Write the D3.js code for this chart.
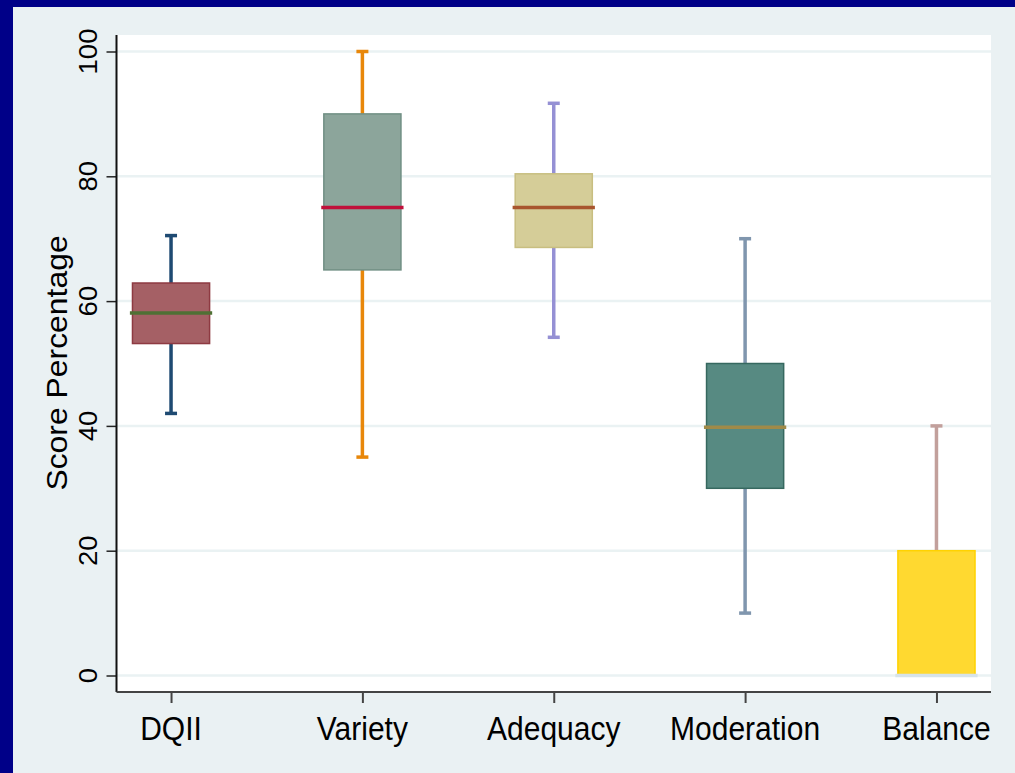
<!DOCTYPE html>
<html><head><meta charset="utf-8">
<script src="https://cdn.jsdelivr.net/npm/d3@7"></script>
<style>html,body{margin:0;padding:0;background:#000088;}svg{display:block;}</style>
</head><body>
<svg id="chart" width="1015" height="773"></svg>
<script>
const categories = ["DQII", "Variety", "Adequacy", "Moderation", "Balance"];
const whiskerLow  = [42, 35, 54.2, 10, 0];
const q1          = [53.2, 65, 68.6, 30, 0];
const median      = [58.1, 75, 75, 39.8, 0];
const q3          = [62.9, 90, 80.4, 50, 20];
const whiskerHigh = [70.5, 100, 91.7, 70, 40];
const yTicks = [0, 20, 40, 60, 80, 100];
const yTitle = "Score Percentage";

const boxFill    = ["#a56065", "#8ca59b", "#d5cd98", "#578a82", "#ffd930"];
const boxStroke  = ["#8e3a42", "#708f84", "#c8be80", "#36685f", "#ffd200"];
const whiskerCol = ["#1e4a72", "#e8870a", "#9590d4", "#8096ae", "#c2a09c"];
const medianCol  = ["#4f7034", "#c0103a", "#a8552e", "#a08a48", "#d6e3ea"];

const data = categories.map((c, i) => ({
  cat: c, lo: whiskerLow[i], q1: q1[i], med: median[i], q3: q3[i], hi: whiskerHigh[i], i
}));

const svg = d3.select("#chart");
const W = 1015, H = 773;
svg.append("rect").attr("width", W).attr("height", H).attr("fill", "#000088");
svg.append("rect").attr("x", 13).attr("y", 7).attr("width", W - 13).attr("height", H - 7).attr("fill", "#eaf1f3");

const plot = {left: 116.5, right: 991, top: 35, bottom: 692};
svg.append("rect").attr("x", plot.left).attr("y", plot.top)
  .attr("width", plot.right - plot.left).attr("height", plot.bottom - plot.top).attr("fill", "#ffffff");

const x = d3.scalePoint().domain(categories).range([plot.left, plot.right]).padding(0.285);
const y = d3.scaleLinear().domain([0, 100]).range([675.5, 51.5]);
const step = x.step();

// gridlines
svg.append("g").selectAll("line").data(yTicks).join("line")
  .attr("x1", plot.left).attr("x2", plot.right)
  .attr("y1", d => y(d)).attr("y2", d => y(d))
  .attr("stroke", "#eaf2f3").attr("stroke-width", 2.5);

// y axis
const yAxisG = svg.append("g").attr("transform", `translate(${plot.left},0)`);
yAxisG.call(d3.axisLeft(y).tickValues(d3.range(0, 101, 4)).tickSize(6).tickFormat(""));
yAxisG.call(d3.axisLeft(y).tickValues(yTicks).tickSize(10).tickFormat(""));
yAxisG.selectAll(".domain").remove();
yAxisG.selectAll(".tick line").attr("stroke", "#222").attr("stroke-width", 1.5);
svg.append("line").attr("x1", plot.left).attr("x2", plot.left).attr("y1", plot.top).attr("y2", plot.bottom)
  .attr("stroke", "#111").attr("stroke-width", 2);

// y tick labels
svg.append("g").selectAll("text").data(yTicks).join("text")
  .attr("transform", d => `translate(96.5,${y(d)}) scale(1,1.1) rotate(-90)`)
  .attr("text-anchor", "middle")
  .attr("font-family", "Liberation Sans, Arial, sans-serif").attr("font-size", 25)
  .attr("fill", "#000").text(d => d);

// y title
svg.append("text")
  .attr("transform", `translate(67,363) scale(1,1.1) rotate(-90)`)
  .attr("text-anchor", "middle")
  .attr("font-family", "Liberation Sans, Arial, sans-serif").attr("font-size", 29)
  .attr("fill", "#000").text(yTitle);

// x axis
const xAxisG = svg.append("g").attr("transform", `translate(0,${plot.bottom})`);
xAxisG.call(d3.axisBottom(x).tickSize(11).tickFormat(""));
xAxisG.selectAll(".domain").remove();
xAxisG.selectAll(".tick line").attr("stroke", "#444").attr("stroke-width", 2);
svg.append("line").attr("x1", plot.left).attr("x2", plot.right).attr("y1", plot.bottom).attr("y2", plot.bottom)
  .attr("stroke", "#444").attr("stroke-width", 2);

svg.append("g").selectAll("text").data(categories).join("text")
  .attr("transform", d => `translate(${x(d)},739.5) scale(1,1.1)`)
  .attr("text-anchor", "middle")
  .attr("font-family", "Liberation Sans, Arial, sans-serif").attr("font-size", 30)
  .attr("fill", "#000").text(d => d);

// boxes
const boxW = step * 0.403;
const medW = step * 0.43;
const capW = 12;
const g = svg.append("g").selectAll("g").data(data).join("g");

// whiskers
g.append("line")
  .attr("x1", d => x(d.cat)).attr("x2", d => x(d.cat))
  .attr("y1", d => y(d.q3)).attr("y2", d => y(d.hi))
  .attr("stroke", d => whiskerCol[d.i]).attr("stroke-width", 3.5);
g.append("line")
  .attr("x1", d => x(d.cat)).attr("x2", d => x(d.cat))
  .attr("y1", d => y(d.q1)).attr("y2", d => y(d.lo))
  .attr("stroke", d => whiskerCol[d.i]).attr("stroke-width", 3.5);
// caps
g.append("line")
  .attr("x1", d => x(d.cat) - capW / 2).attr("x2", d => x(d.cat) + capW / 2)
  .attr("y1", d => y(d.hi)).attr("y2", d => y(d.hi))
  .attr("stroke", d => whiskerCol[d.i]).attr("stroke-width", 3.5);
g.filter(d => d.lo < d.q1).append("line")
  .attr("x1", d => x(d.cat) - capW / 2).attr("x2", d => x(d.cat) + capW / 2)
  .attr("y1", d => y(d.lo)).attr("y2", d => y(d.lo))
  .attr("stroke", d => whiskerCol[d.i]).attr("stroke-width", 3.5);

// box
g.append("rect")
  .attr("x", d => x(d.cat) - boxW / 2).attr("width", boxW)
  .attr("y", d => y(d.q3)).attr("height", d => y(d.q1) - y(d.q3))
  .attr("fill", d => boxFill[d.i]).attr("stroke", d => boxStroke[d.i]).attr("stroke-width", 1.5);

// median
g.append("line")
  .attr("x1", d => x(d.cat) - medW / 2).attr("x2", d => x(d.cat) + medW / 2)
  .attr("y1", d => y(d.med)).attr("y2", d => y(d.med))
  .attr("stroke", d => medianCol[d.i]).attr("stroke-width", 3.5);
</script>
</body></html>
